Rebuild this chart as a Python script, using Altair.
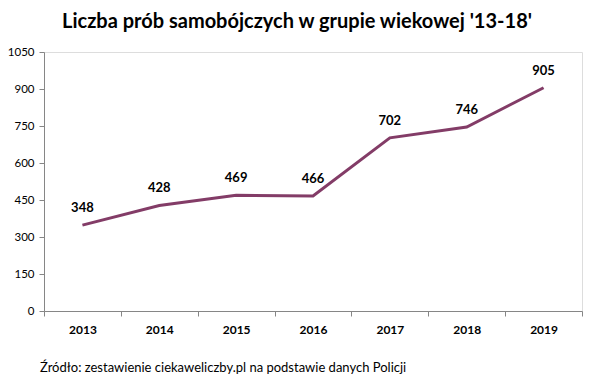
import altair as alt
import pandas as pd

years = ["2013", "2014", "2015", "2016", "2017", "2018", "2019"]
values = [348, 428, 469, 466, 702, 746, 905]
y_ticks = [0, 150, 300, 450, 600, 750, 900, 1050]
title_text = "Liczba prób samobójczych  w grupie wiekowej '13-18'"
source_text = "Źródło: zestawienie ciekaweliczby.pl na podstawie danych Policji"

df = pd.DataFrame({"year": years, "value": values})
src_df = pd.DataFrame({"t": [source_text]})

W, H = 538, 259
FONT = "Lato"
COLOR = "#833C67"

x = alt.X("year:O", sort=years, title=None,
          scale=alt.Scale(paddingInner=0, paddingOuter=0),
          axis=alt.Axis(labelAngle=0, tickBand="extent", labelFontWeight="bold",
                        labelFont=FONT, labelFontSize=12, labelColor="#000",
                        domainColor="#868686", tickColor="#868686", tickSize=5,
                        labelPadding=8))
y = alt.Y("value:Q", title=None,
          scale=alt.Scale(domain=[0, 1050], nice=False),
          axis=alt.Axis(values=y_ticks, grid=False, format="d", labelFont=FONT,
                        labelFontSize=11.5, labelColor="#000", domainColor="#868686",
                        tickColor="#868686", tickSize=5, labelPadding=5))

base = alt.Chart(df)
line = base.mark_line(color=COLOR, strokeWidth=3).encode(x=x, y=y)
labels = base.mark_text(dy=-17, fontWeight="bold", font=FONT, fontSize=13,
                        color="#000").encode(x=x, y=y, text="value:Q")
source = alt.Chart(src_df).mark_text(align="left", baseline="middle", font=FONT,
                                     fontSize=13, fontWeight="normal", color="#000").encode(
    x=alt.value(-4), y=alt.value(H + 57), text="t:N")

chart = alt.layer(line, labels, source).properties(
    width=W, height=H,
    autosize=alt.AutoSizeParams(type="none"),
    padding={"left": 36, "top": 44, "right": 6, "bottom": 72},
    title=alt.TitleParams(title_text, font=FONT, fontSize=20, fontWeight="bold",
                          anchor="middle", dx=-16, offset=14, color="#000"),
).configure_view(stroke=None).configure(background="white")

chart.save("out.html", embed_options={"renderer": "svg", "actions": False})
